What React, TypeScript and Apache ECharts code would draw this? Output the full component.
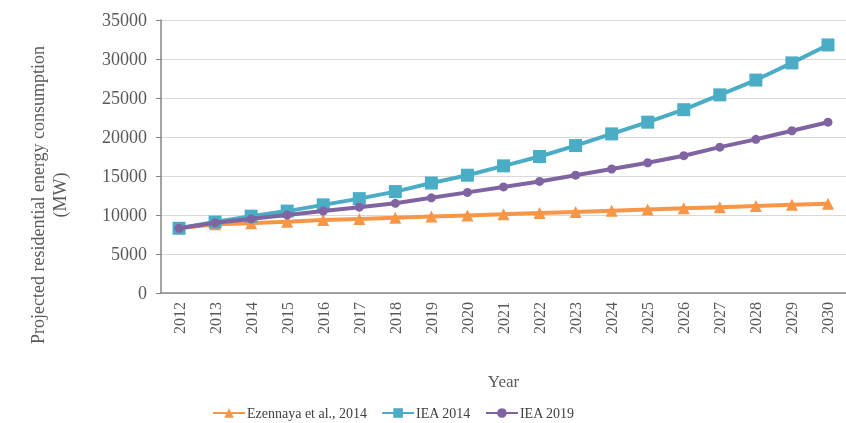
import React, { useEffect, useRef } from "react";
import * as echarts from "echarts";

const years = ["2012","2013","2014","2015","2016","2017","2018","2019","2020","2021","2022","2023","2024","2025","2026","2027","2028","2029","2030"];
const ezennaya = [8300, 8800, 8950, 9150, 9350, 9500, 9650, 9800, 9950, 10100, 10250, 10400, 10550, 10700, 10850, 11000, 11150, 11300, 11450];
const iea2014 = [8300, 9100, 9850, 10500, 11300, 12100, 13000, 14100, 15100, 16300, 17500, 18900, 20400, 21900, 23500, 25400, 27300, 29500, 31800];
const iea2019 = [8300, 9000, 9500, 10000, 10500, 11000, 11500, 12200, 12900, 13600, 14300, 15100, 15900, 16700, 17600, 18700, 19700, 20800, 21900];
const seriesNames = ["Ezennaya et al., 2014", "IEA 2014", "IEA 2019"];

const FONT = "Liberation Serif";

export default function App() {
  const ref = useRef<HTMLDivElement>(null);
  useEffect(() => {
    const chart = echarts.init(ref.current!, null, { renderer: "svg" });
    chart.setOption({
      animation: false,
      textStyle: { fontFamily: FONT },
      grid: { left: 161, top: 20, width: 690, height: 273, containLabel: false },
      legend: {
        left: 207,
        top: 401,
        itemWidth: 32,
        itemHeight: 12,
        itemGap: 14,
        textStyle: { fontFamily: FONT, fontSize: 14, color: "#404040", padding: [0, 0, 0, -3] },
        data: seriesNames,
      },
      graphic: [
        {
          type: "text",
          x: 49,
          y: 195,
          rotation: Math.PI / 2,
          style: {
            text: "Projected residential energy consumption\n(MW)",
            font: `18px "${FONT}"`,
            fill: "#595959",
            align: "center",
            verticalAlign: "middle",
            lineHeight: 22,
          },
        },
      ],
      xAxis: {
        type: "category",
        data: years,
        boundaryGap: true,
        name: "Year",
        nameLocation: "middle",
        nameGap: 80,
        nameTextStyle: { fontFamily: FONT, fontSize: 17, color: "#595959" },
        axisLine: { lineStyle: { color: "#868686", width: 1.5 } },
        axisTick: { alignWithLabel: true, length: 5, lineStyle: { color: "#868686" } },
        axisLabel: { rotate: 90, fontFamily: FONT, fontSize: 16, color: "#595959", margin: 9 },
      },
      yAxis: {
        type: "value",
        min: 0,
        max: 35000,
        interval: 5000,
        axisLine: { show: true, lineStyle: { color: "#868686", width: 1.5 } },
        axisTick: { show: true, length: 5, lineStyle: { color: "#868686" } },
        axisLabel: {
          fontFamily: FONT,
          fontSize: 18,
          color: "#595959",
          margin: 14,
          formatter: (v: number) => String(v),
        },
        splitLine: { lineStyle: { color: "#d9d9d9", width: 1 } },
      },
      series: [
        {
          name: seriesNames[0],
          type: "line",
          data: ezennaya,
          symbol: "triangle",
          symbolSize: 12,
          color: "#F79646",
          lineStyle: { width: 4 },
          z: 2,
        },
        {
          name: seriesNames[1],
          type: "line",
          data: iea2014,
          symbol: "rect",
          symbolSize: 13,
          color: "#4BACC6",
          lineStyle: { width: 4 },
          z: 3,
        },
        {
          name: seriesNames[2],
          type: "line",
          data: iea2019,
          symbol: "circle",
          symbolSize: 9,
          color: "#8064A2",
          lineStyle: { width: 4 },
          z: 4,
        },
      ],
    });
    return () => chart.dispose();
  }, []);
  return (
    <div
      ref={ref}
      style={{ position: "fixed", left: 0, top: 0, width: 846, height: 423 }}
    />
  );
}
